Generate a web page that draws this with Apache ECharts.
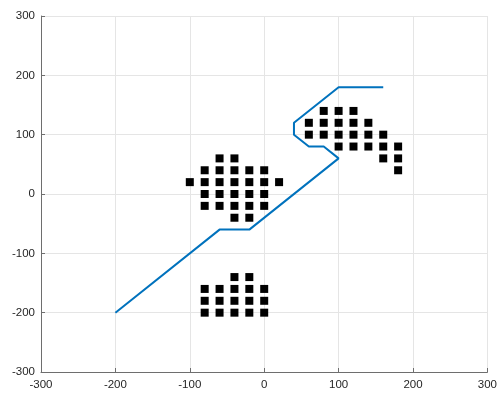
<!DOCTYPE html>
<html><head><meta charset="utf-8">
<script src="https://cdn.jsdelivr.net/npm/echarts@6/dist/echarts.min.js"></script>
<style>html,body{margin:0;padding:0;background:#fff}#c{width:500px;height:393px}</style>
</head><body><div id="c"></div>
<script>
// Line path (x, y)
const lineX = [-200, -60, -20, 100, 80, 60, 40, 40, 100, 160];
const lineY = [-200, -60, -60, 60, 80, 80, 100, 120, 180, 180];
// Square markers (x, y)
const ptsX = [
  -60,-40,
  -80,-60,-40,-20,0,
  -100,-80,-60,-40,-20,0,20,
  -80,-60,-40,-20,0,
  -80,-60,-40,-20,0,
  -40,-20,
  -40,-20,
  -80,-60,-40,-20,0,
  -80,-60,-40,-20,0,
  -80,-60,-40,-20,0,
  80,100,120,
  60,80,100,120,140,
  60,80,100,120,140,160,
  100,120,140,160,180,
  160,180,
  180
];
const ptsY = [
  60,60,
  40,40,40,40,40,
  20,20,20,20,20,20,20,
  0,0,0,0,0,
  -20,-20,-20,-20,-20,
  -40,-40,
  -140,-140,
  -160,-160,-160,-160,-160,
  -180,-180,-180,-180,-180,
  -200,-200,-200,-200,-200,
  140,140,140,
  120,120,120,120,120,
  100,100,100,100,100,100,
  80,80,80,80,80,
  60,60,
  40
];
const xTicks = [-300,-200,-100,0,100,200,300];
const yTicks = [-300,-200,-100,0,100,200,300];

const chart = echarts.init(document.getElementById('c'), null, {renderer:'canvas'});
const axisCommon = {
  min: -300, max: 300, interval: 100,
  axisLine: {show: true, onZero: false, lineStyle: {color: '#6e6e6e', width: 1}},
  axisTick: {show: true, inside: true, length: 4, lineStyle: {color: '#6e6e6e'}},
  splitLine: {show: true, lineStyle: {color: '#e5e5e5', width: 1}},
  axisLabel: {color: '#262626', fontSize: 11.5, fontFamily: 'Liberation Sans, Arial, sans-serif'}
};
chart.setOption({
  animation: false,
  grid: {left: 41, right: 11, top: 16, bottom: 21, containLabel: false},
  xAxis: Object.assign({type: 'value'}, axisCommon, {
    axisLabel: Object.assign({}, axisCommon.axisLabel, {margin: 7,
      formatter: v => xTicks.includes(v) ? String(v) : ''})
  }),
  yAxis: Object.assign({type: 'value'}, axisCommon, {
    axisLabel: Object.assign({}, axisCommon.axisLabel, {margin: 6,
      formatter: v => yTicks.includes(v) ? String(v) : ''})
  }),
  series: [
    {
      type: 'line',
      data: lineX.map((x, i) => [x, lineY[i]]),
      showSymbol: false,
      symbol: 'none',
      lineStyle: {color: '#0072BD', width: 2},
      z: 2
    },
    {
      type: 'scatter',
      data: ptsX.map((x, i) => [x, ptsY[i]]),
      symbol: 'rect',
      symbolSize: 8,
      itemStyle: {color: '#000', opacity: 1},
      z: 3
    }
  ]
});
</script></body></html>
